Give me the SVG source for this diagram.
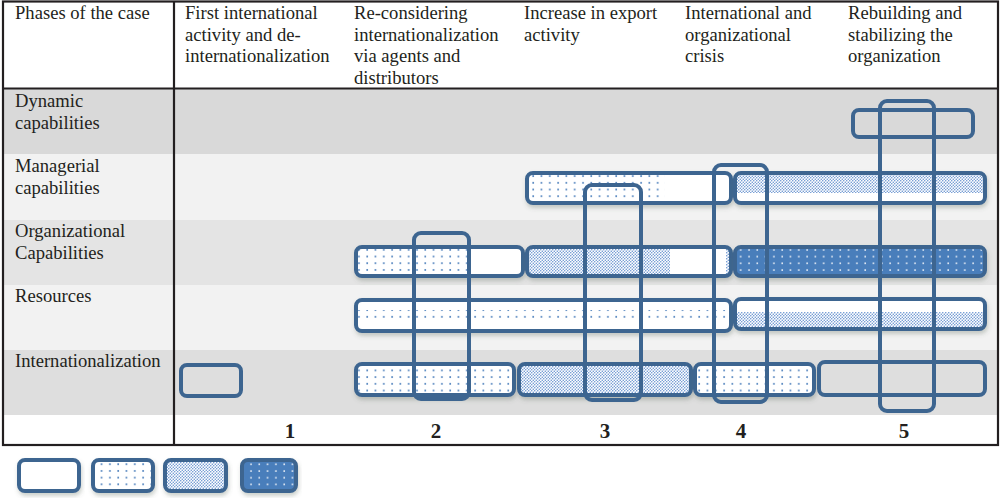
<svg xmlns="http://www.w3.org/2000/svg" width="1000" height="498" viewBox="0 0 1000 498">
<style>
.t{font-family:"Liberation Serif","Times New Roman",serif;font-size:18.6px;fill:#231f20}
.n{font-family:"Liberation Serif","Times New Roman",serif;font-size:21px;font-weight:bold;fill:#231f20;text-anchor:middle}
.b{fill:none;stroke:#3d6590;stroke-width:4}
.line{stroke:#231f20;stroke-width:2.2;fill:none}
</style>
<defs>
<pattern id="sparse" width="8.3" height="6.7" patternUnits="userSpaceOnUse">
<rect width="8.3" height="6.7" fill="#fff"/>
<circle cx="2" cy="2" r="0.95" fill="#4a7ebb"/>
</pattern>
<pattern id="dense" width="3" height="3" patternUnits="userSpaceOnUse">
<rect width="3" height="3" fill="#fff"/>
<circle cx="0.75" cy="0.75" r="0.75" fill="#5d8bcc"/>
<circle cx="2.25" cy="2.25" r="0.75" fill="#5d8bcc"/>
</pattern>
<pattern id="blue" width="8.3" height="6.7" patternUnits="userSpaceOnUse">
<rect width="8.3" height="6.7" fill="#4a7ebb"/>
<circle cx="2" cy="2" r="0.9" fill="#ffffff"/>
</pattern>
<filter id="sh" x="-10%" y="-30%" width="120%" height="170%">
<feDropShadow dx="1" dy="3" stdDeviation="2" flood-color="#556655" flood-opacity="0.3"/>
</filter>
</defs>

<g id="table">
<rect x="3" y="1" width="995" height="444" fill="#fff"/>
<rect x="3" y="89" width="995" height="65" fill="#d9d9d9"/>
<rect x="3" y="154" width="995" height="66" fill="#f2f2f2"/>
<rect x="3" y="220" width="995" height="65" fill="#e4e4e4"/>
<rect x="3" y="285" width="995" height="65" fill="#f2f2f2"/>
<rect x="3" y="350" width="995" height="65" fill="#dedede"/>
<rect x="3" y="1.5" width="995" height="443.5" class="line"/>
<line x1="3" y1="88.5" x2="998" y2="88.5" class="line"/>
<line x1="174" y1="1" x2="174" y2="445" class="line"/>
</g>

<g id="header">
<text class="t" x="15" y="19">Phases of the case</text>
<text class="t" x="185" y="19">First international</text>
<text class="t" x="185" y="40.5">activity and de-</text>
<text class="t" x="185" y="62">internationalization</text>
<text class="t" x="354" y="19">Re-considering</text>
<text class="t" x="354" y="40.5">internationalization</text>
<text class="t" x="354" y="62">via agents and</text>
<text class="t" x="354" y="83.5">distributors</text>
<text class="t" x="524" y="19">Increase in export</text>
<text class="t" x="524" y="40.5">activity</text>
<text class="t" x="685" y="19">International and</text>
<text class="t" x="685" y="40.5">organizational</text>
<text class="t" x="685" y="62">crisis</text>
<text class="t" x="848" y="19">Rebuilding and</text>
<text class="t" x="848" y="40.5">stabilizing the</text>
<text class="t" x="848" y="62">organization</text>
</g>

<g id="row-labels">
<text class="t" x="15" y="107">Dynamic</text>
<text class="t" x="15" y="128.5">capabilities</text>
<text class="t" x="15" y="172">Managerial</text>
<text class="t" x="15" y="193.5">capabilities</text>
<text class="t" x="15" y="237">Organizational</text>
<text class="t" x="15" y="258.5">Capabilities</text>
<text class="t" x="15" y="302">Resources</text>
<text class="t" x="15" y="367">Internationalization</text>
</g>

<g id="phase-numbers">
<text class="n" x="290" y="438">1</text>
<text class="n" x="436" y="438">2</text>
<text class="n" x="605" y="438">3</text>
<text class="n" x="741" y="438">4</text>
<text class="n" x="904" y="438">5</text>
</g>

<g id="dynamic-5">
<rect class="b" x="853" y="110" width="120" height="27" rx="6"/>
</g>

<g id="managerial-3" filter="url(#sh)">
<rect x="527" y="173" width="204" height="30" rx="6" fill="#fff"/>
<rect x="529" y="175" width="136" height="26" fill="url(#sparse)"/>
<rect class="b" x="527" y="173" width="204" height="30" rx="6"/>
</g>
<g id="managerial-45" filter="url(#sh)">
<rect x="735" y="173" width="250" height="30" rx="6" fill="#fff"/>
<rect x="737" y="175" width="246" height="18" fill="url(#dense)"/>
<rect class="b" x="735" y="173" width="250" height="30" rx="6"/>
</g>

<g id="organizational-2" filter="url(#sh)">
<rect x="356" y="247" width="167" height="29" rx="6" fill="#fff"/>
<rect x="358" y="249" width="109" height="25" fill="url(#sparse)"/>
<rect x="519" y="249" width="3" height="25" fill="url(#sparse)"/>
<rect class="b" x="356" y="247" width="167" height="29" rx="6"/>
</g>
<g id="organizational-3" filter="url(#sh)">
<rect x="527" y="247" width="204" height="29" rx="6" fill="#fff"/>
<rect x="529" y="249" width="141" height="25" fill="url(#dense)"/>
<rect x="726" y="249" width="3" height="25" fill="url(#dense)"/>
<rect class="b" x="527" y="247" width="204" height="29" rx="6"/>
</g>
<g id="organizational-45" filter="url(#sh)">
<rect x="735" y="247" width="250" height="29" rx="6" fill="url(#blue)"/>
<rect class="b" x="735" y="247" width="250" height="29" rx="6"/>
</g>

<g id="resources-23" filter="url(#sh)">
<rect x="356" y="300" width="375" height="31" rx="6" fill="#fff"/>
<rect x="358" y="310" width="371" height="12" fill="url(#sparse)"/>
<rect class="b" x="356" y="300" width="375" height="31" rx="6"/>
</g>
<g id="resources-45" filter="url(#sh)">
<rect x="735" y="299" width="250" height="30" rx="6" fill="#fff"/>
<rect x="737" y="312" width="246" height="15" fill="url(#dense)"/>
<rect class="b" x="735" y="299" width="250" height="30" rx="6"/>
</g>

<g id="internationalization-1">
<rect class="b" x="181" y="365" width="60" height="31" rx="6"/>
</g>
<g id="internationalization-2" filter="url(#sh)">
<rect x="356" y="364" width="158" height="31" rx="6" fill="url(#sparse)"/>
<rect class="b" x="356" y="364" width="158" height="31" rx="6"/>
</g>
<g id="internationalization-3" filter="url(#sh)">
<rect x="519" y="364" width="172" height="31" rx="6" fill="url(#dense)"/>
<rect class="b" x="519" y="364" width="172" height="31" rx="6"/>
</g>
<g id="internationalization-4" filter="url(#sh)">
<rect x="695" y="364" width="119" height="31" rx="6" fill="url(#sparse)"/>
<rect class="b" x="695" y="364" width="119" height="31" rx="6"/>
</g>
<g id="internationalization-5">
<rect class="b" x="819" y="362" width="166" height="33" rx="6"/>
</g>

<g id="phase-2-frame"><rect class="b" x="414" y="233" width="55" height="166" rx="7"/></g>
<g id="phase-3-frame"><rect class="b" x="585" y="185" width="56" height="215" rx="7"/></g>
<g id="phase-4-frame"><rect class="b" x="714" y="165" width="53" height="237" rx="7"/></g>
<g id="phase-5-frame"><rect class="b" x="880" y="101" width="54" height="310" rx="7"/></g>

<g id="legend">
<g id="legend-plain" filter="url(#sh)"><rect x="19" y="460" width="60" height="31" rx="6" fill="#fff"/><rect class="b" x="19" y="460" width="60" height="31" rx="6"/></g>
<g id="legend-sparse" filter="url(#sh)"><rect x="93" y="460" width="60" height="31" rx="6" fill="url(#sparse)"/><rect class="b" x="93" y="460" width="60" height="31" rx="6"/></g>
<g id="legend-dense" filter="url(#sh)"><rect x="165" y="460" width="61" height="31" rx="6" fill="url(#dense)"/><rect class="b" x="165" y="460" width="61" height="31" rx="6"/></g>
<g id="legend-blue" filter="url(#sh)"><rect x="242" y="460" width="54" height="31" rx="6" fill="url(#blue)"/><rect class="b" x="242" y="460" width="54" height="31" rx="6"/></g>
</g>
</svg>
